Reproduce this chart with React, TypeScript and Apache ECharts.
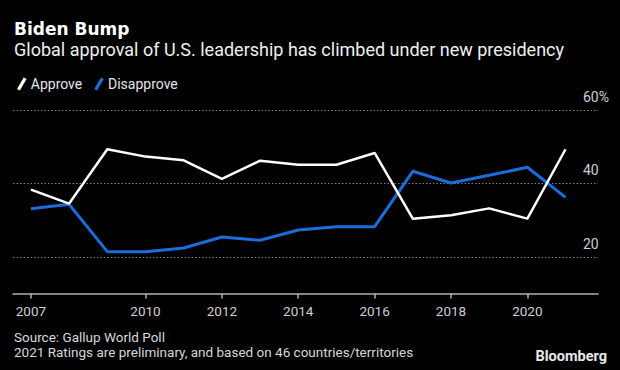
import React, { useEffect, useRef } from "react";
import * as echarts from "echarts";

const years = [2007, 2008, 2009, 2010, 2011, 2012, 2013, 2014, 2015, 2016, 2017, 2018, 2019, 2020, 2021];
const approve = [38.3, 34.5, 49.3, 47.3, 46.3, 41.2, 46.2, 45.1, 45.1, 48.3, 30.4, 31.3, 33.2, 30.4, 49.3];
const disapprove = [33.1, 34.3, 21.4, 21.4, 22.4, 25.4, 24.5, 27.3, 28.2, 28.2, 43.3, 40.1, 42.2, 44.4, 36.2];
const xTickYears = [2007, 2010, 2012, 2014, 2016, 2018, 2020];
const yTickLabels = [20, 40, 60];

const FONT = "Roboto, 'Noto Sans', sans-serif";
const TFONT = "'DejaVu Sans', 'Noto Sans', sans-serif";
const WHITE = "#ffffff";
const BLUE = "#1c6cdc";

export default function App() {
  const ref = useRef<HTMLDivElement>(null);

  useEffect(() => {
    if (!ref.current) return;
    const chart = echarts.init(ref.current, null, { renderer: "svg" });
    const slash = "path://M0,12 L7,0 L10,1.6 L3,13.6 Z";
    chart.setOption({
      animation: false,
      backgroundColor: "#000000",
      textStyle: { fontFamily: FONT },
      grid: { left: 13, right: 22, top: 110, bottom: 76.5, containLabel: false },
      legend: {
        left: 12,
        top: 72,
        itemWidth: 10,
        itemHeight: 13,
        itemGap: 12,
        textStyle: { color: "#e6e6e6", fontSize: 14, fontFamily: FONT, padding: [0, 0, 0, -1] },
        data: [
          { name: "Approve", icon: slash, itemStyle: { color: WHITE } },
          { name: "Disapprove", icon: slash, itemStyle: { color: BLUE } },
        ],
      },
      xAxis: {
        type: "value",
        min: 2006.53,
        max: 2021.85,
        axisLine: { show: true, lineStyle: { color: "#b0b0b0", width: 1.5 } },
        axisTick: {
          show: true,
          customValues: xTickYears,
          length: 5,
          lineStyle: { color: "#b0b0b0", width: 1.5 },
        },
        axisLabel: {
          customValues: xTickYears,
          color: "#cfcfcf",
          fontSize: 13.5,
          fontFamily: FONT,
          margin: 10,
          formatter: (v: number) => String(v),
        },
        splitLine: { show: false },
      },
      yAxis: {
        type: "value",
        position: "right",
        min: 10,
        max: 60,
        interval: 10,
        axisLine: { show: false },
        axisTick: { show: false },
        axisLabel: {
          inside: true,
          align: "left",
          verticalAlign: "bottom",
          margin: 15,
          padding: [0, 0, 6, 0],
          color: "#cfcfcf",
          fontSize: 14,
          fontFamily: FONT,
          formatter: (v: number) =>
            yTickLabels.indexOf(v) >= 0 ? (v === 60 ? v + "%" : String(v)) : "",
        },
        splitLine: {
          show: true,
          showMinLine: true,
          lineStyle: {
            color: ["rgba(0,0,0,0)", "#808080"],
            type: [1.5, 2],
            width: 1,
          },
        },
      },
      series: [
        {
          name: "Approve",
          type: "line",
          symbol: "none",
          data: years.map((y, i) => [y, approve[i]]),
          lineStyle: { color: WHITE, width: 2.5 },
          itemStyle: { color: WHITE },
          z: 3,
        },
        {
          name: "Disapprove",
          type: "line",
          symbol: "none",
          data: years.map((y, i) => [y, disapprove[i]]),
          lineStyle: { color: BLUE, width: 3 },
          itemStyle: { color: BLUE },
          z: 2,
        },
      ],
      graphic: [
        {
          type: "text",
          left: 14,
          top: 20,
          style: {
            text: "Biden Bump",
            fill: WHITE,
            fontSize: 17,
            lineHeight: 17,
            fontWeight: "bold",
            fontFamily: TFONT,
          },
        },
        {
          type: "text",
          left: 14,
          top: 39.5,
          style: {
            text: "Global approval of U.S. leadership has climbed under new presidency",
            fill: "#f0f0f0",
            fontSize: 18,
            lineHeight: 19,
            fontFamily: FONT,
          },
        },
        {
          type: "text",
          left: 14,
          top: 330,
          style: { text: "Source: Gallup World Poll", fill: "#d8d8d8", fontSize: 13.5, fontFamily: FONT },
        },
        {
          type: "text",
          left: 14,
          top: 345,
          style: {
            text: "2021 Ratings are preliminary, and based on 46 countries/territories",
            fill: "#d8d8d8",
            fontSize: 13.5,
            fontFamily: FONT,
          },
        },
        {
          type: "text",
          right: 13,
          top: 349,
          style: { text: "Bloomberg", fill: "#e8e8e8", fontSize: 14.5, fontWeight: "bold", fontFamily: FONT },
        },
      ],
    });
    return () => chart.dispose();
  }, []);

  return (
    <div
      ref={ref}
      style={{ position: "fixed", left: 0, top: 0, width: 620, height: 370, background: "#000" }}
    />
  );
}
